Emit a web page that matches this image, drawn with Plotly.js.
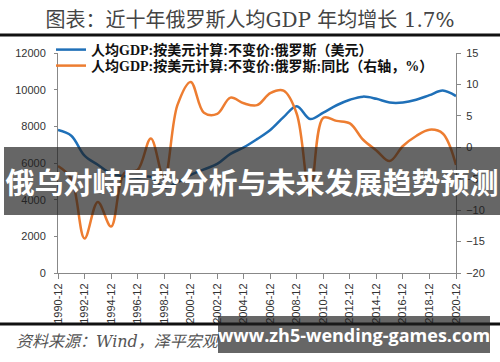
<!DOCTYPE html>
<html>
<head>
<meta charset="utf-8">
<script src="https://cdn.plot.ly/plotly-3.0.1.min.js"></script>
<style>html,body{margin:0;padding:0;background:#fff;}#chart{width:500px;height:362px;}</style>
</head>
<body>
<div id="chart"></div>
<script>
const years = ['1990-12','1991-12','1992-12','1993-12','1994-12','1995-12','1996-12','1997-12','1998-12','1999-12',
  '2000-12','2001-12','2002-12','2003-12','2004-12','2005-12','2006-12','2007-12','2008-12','2009-12',
  '2010-12','2011-12','2012-12','2013-12','2014-12','2015-12','2016-12','2017-12','2018-12','2019-12','2020-12'];
const tickLabels = ['1990-12','1992-12','1994-12','1996-12','1998-12','2000-12','2002-12','2004-12',
  '2006-12','2008-12','2010-12','2012-12','2014-12','2016-12','2018-12','2020-12'];
const gdpUSD = [7800, 7490, 6400, 5900, 5420, 5280, 5200, 5250, 4650, 4950,
  5350, 5650, 5950, 6500, 6850, 7300, 7800, 8500, 9100, 8400,
  8750, 9150, 9450, 9620, 9500, 9300, 9300, 9450, 9700, 9950, 9650];
const gdpYoY = [-3.0, -5.0, -14.5, -8.7, -12.6, -4.1, -3.6, 1.4, -5.0, 6.7,
  10.4, 5.5, 5.3, 7.9, 7.0, 6.7, 8.6, 9.0, 5.3, -7.8,
  4.7, 4.2, 3.8, 1.2, -0.5, -2.2, 0.2, 1.8, 2.8, 2.2, -2.8];
const seriesNames = ['人均GDP:按美元计算:不变价:俄罗斯（美元）', '人均GDP:按美元计算:不变价:俄罗斯:同比（右轴，%）'];
const titleText = '图表：近十年俄罗斯人均GDP 年均增长 1.7%';
const sourceText = '资料来源：Wind，泽平宏观';
const bannerText = '俄乌对峙局势分析与未来发展趋势预测';
const siteText = 'www.zh5-wending-games.com';

const W = 500, H = 362, L = 58, R = 44, T = 53, B = 89;
const pw = W - L - R, ph = H - T - B;
const px = x => (x - L) / pw;
const py = y => (H - B - y) / ph;

const traces = [
  {x: years, y: gdpUSD, name: seriesNames[0], type: 'scatter', mode: 'lines', legend: 'legend',
   line: {color: '#1F70B8', width: 2.5, shape: 'spline', smoothing: 1}, yaxis: 'y'},
  {x: years, y: gdpYoY, name: seriesNames[1], type: 'scatter', mode: 'lines', legend: 'legend2',
   line: {color: '#ED7D31', width: 2.5, shape: 'spline', smoothing: 1}, yaxis: 'y2'}
];

const axisFont = {family: 'Liberation Sans, Arial, sans-serif', size: 11, color: '#333'};
const legendFont = {family: 'Liberation Serif, Noto Sans CJK SC, serif', size: 14, color: '#111', weight: 'bold'};

const layout = {
  width: W, height: H,
  margin: {l: L, r: R, t: T, b: B, pad: 0},
  paper_bgcolor: '#fff', plot_bgcolor: '#fff',
  showlegend: true,
  title: {text: titleText, x: 0.5, xanchor: 'center', xref: 'container', y: 1 - 20 / H, yanchor: 'middle', yref: 'container',
          font: {family: 'DejaVu Serif, Noto Sans CJK SC, serif', size: 20, color: '#444'}},
  legend: {x: px(51), xanchor: 'left', y: py(50), yanchor: 'middle', bgcolor: 'rgba(0,0,0,0)',
           font: legendFont, itemwidth: 30},
  legend2: {x: px(51), xanchor: 'left', y: py(66), yanchor: 'middle', bgcolor: 'rgba(0,0,0,0)',
           font: legendFont, itemwidth: 30},
  xaxis: {type: 'category', range: [0, years.length - 1], tickmode: 'array', tickvals: tickLabels, ticktext: tickLabels,
          tickangle: -90, ticks: 'outside', ticklen: 5, tickcolor: '#888', showline: true, linecolor: '#888', linewidth: 1,
          showgrid: false, zeroline: false, tickfont: axisFont, fixedrange: true},
  yaxis: {range: [0, 12000], dtick: 2000, tick0: 0, tickformat: 'd', ticks: 'outside', ticklen: 3, tickcolor: '#888', showline: true,
          linecolor: '#888', linewidth: 1, showgrid: false, zeroline: false, tickfont: axisFont, ticklabelstandoff: 6},
  yaxis2: {range: [-20, 15], dtick: 5, tick0: 0, overlaying: 'y', side: 'right', ticks: 'outside', ticklen: 4,
           tickcolor: '#888', showline: true, linecolor: '#888', linewidth: 1, showgrid: false, zeroline: false,
           tickfont: axisFont, ticklabelstandoff: 3},
  shapes: [
    {type: 'line', xref: 'paper', yref: 'paper', x0: px(0), x1: px(500), y0: py(35), y1: py(35), line: {color: '#111', width: 3}},
    {type: 'line', xref: 'paper', yref: 'paper', x0: px(0), x1: px(500), y0: py(324), y1: py(324), line: {color: '#111', width: 3}}
  ],
  annotations: [
    {text: sourceText, xref: 'paper', yref: 'paper', x: px(14), y: py(341), xanchor: 'left', yanchor: 'middle', showarrow: false,
     font: {family: 'DejaVu Serif, Noto Sans CJK SC, serif', size: 16, color: '#555', style: 'italic'}},
    {text: bannerText, xref: 'paper', yref: 'paper', x: px(252), y: py(181), xanchor: 'center', yanchor: 'middle', showarrow: false,
     width: 496, height: 68, bgcolor: 'rgba(30,30,30,0.68)', borderpad: 0, borderwidth: 0,
     font: {family: 'Noto Sans CJK SC, sans-serif', size: 29, color: '#fff', weight: 'bold'}},
    {text: siteText, xref: 'paper', yref: 'paper', x: px(354), y: py(334), xanchor: 'center', yanchor: 'middle', showarrow: false,
     width: 272, height: 37, bgcolor: 'rgba(30,30,30,0.68)', borderpad: 0, borderwidth: 0,
     font: {family: 'Open Sans, Noto Sans, sans-serif', size: 18, color: '#fff', weight: 'bold'}}
  ]
};

Plotly.newPlot('chart', traces, layout, {displayModeBar: false, staticPlot: true});
</script>
</body>
</html>
